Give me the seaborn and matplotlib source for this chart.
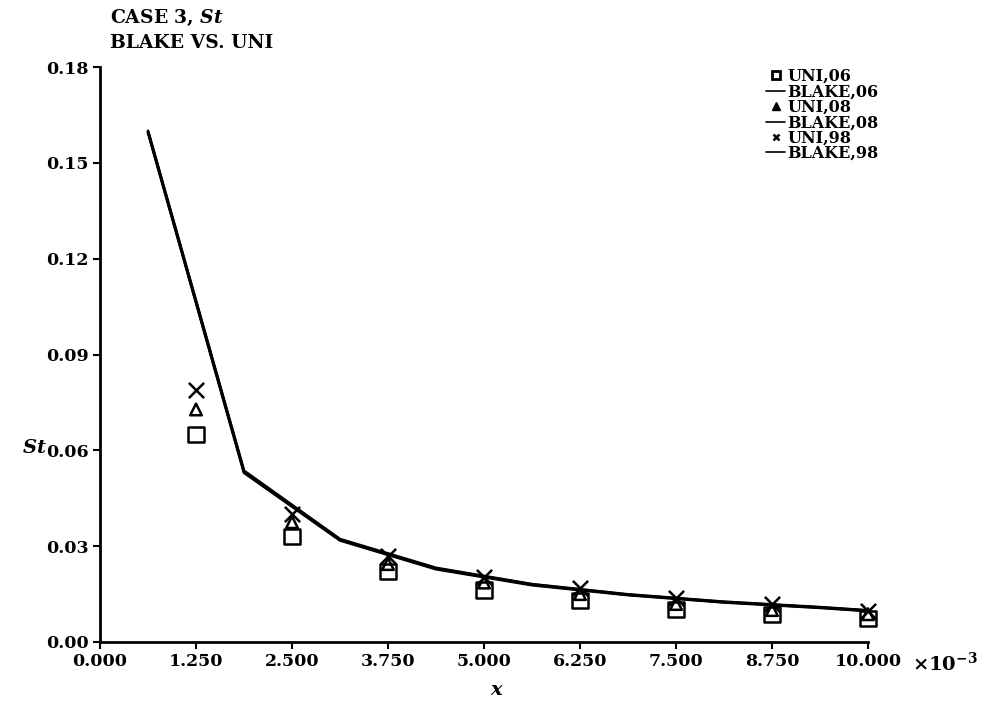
import matplotlib
matplotlib.use("Agg")
import matplotlib.pyplot as plt
import seaborn as sns
import pandas as pd
import numpy as np

# ---- data (x in units of 1e-3) ----
uni_x = [1.25, 2.5, 3.75, 5.0, 6.25, 7.5, 8.75, 10.0]
uni_06 = [0.0650, 0.0330, 0.0220, 0.0163, 0.0131, 0.0102, 0.0085, 0.0073]
uni_08 = [0.0728, 0.0375, 0.0244, 0.0186, 0.0150, 0.0119, 0.0100, 0.0087]
uni_98 = [0.0790, 0.0400, 0.0268, 0.0205, 0.0170, 0.0138, 0.0118, 0.0097]

blake_x = [0.625, 1.875, 3.125, 4.375, 5.625, 6.875, 8.125, 9.375, 10.0]
blake_06 = [0.1595, 0.0530, 0.0318, 0.0228, 0.0178, 0.0147, 0.0124, 0.0107, 0.0097]
blake_08 = [0.1598, 0.0533, 0.0320, 0.0230, 0.0180, 0.0148, 0.0125, 0.0108, 0.0098]
blake_98 = [0.1600, 0.0536, 0.0322, 0.0232, 0.0181, 0.0149, 0.0126, 0.0109, 0.0099]

x_ticks = [0.0, 1.25, 2.5, 3.75, 5.0, 6.25, 7.5, 8.75, 10.0]
y_ticks = [0.00, 0.03, 0.06, 0.09, 0.12, 0.15, 0.18]

sns.set_theme(style="ticks")
plt.rcParams['font.family'] = ['DejaVu Serif']
plt.rcParams['font.weight'] = 'bold'
plt.rcParams['mathtext.fontset'] = 'dejavuserif'
plt.rcParams['text.color'] = 'black'
plt.rcParams['axes.labelcolor'] = 'black'
plt.rcParams['xtick.color'] = 'black'
plt.rcParams['ytick.color'] = 'black'

fig = plt.figure(figsize=(9.85, 7.15), dpi=100)
ax = fig.add_axes([100/985, 1-642/715, 768/985, (642-67)/715])

k = dict(color='black', linewidth=2.0, ax=ax, legend=False)
sns.lineplot(x=blake_x, y=blake_06, **k)
sns.lineplot(x=blake_x, y=blake_08, **k)
sns.lineplot(x=blake_x, y=blake_98, **k)

sns.scatterplot(x=uni_x, y=uni_06, marker='s', s=120, facecolors='none',
                edgecolor='black', linewidth=1.8, ax=ax, legend=False, zorder=3, clip_on=False)
sns.scatterplot(x=uni_x, y=uni_08, marker='^', s=70, facecolors='none',
                edgecolor='black', linewidth=1.8, ax=ax, legend=False, zorder=3, clip_on=False)
sns.scatterplot(x=uni_x, y=uni_98, marker='x', s=120, color='black',
                linewidth=1.8, ax=ax, legend=False, zorder=3, clip_on=False)

ax.set_xlim(0, 10)
ax.set_ylim(0, 0.18)
ax.set_xticks(x_ticks)
ax.set_xticklabels([f"{v:.3f}" for v in x_ticks])
ax.set_yticks(y_ticks)
ax.set_yticklabels([f"{v:.2f}" for v in y_ticks])
ax.tick_params(axis='both', labelsize=12.5, length=5, width=1.5, colors='black',
               direction='out', pad=3)
for lab in ax.get_xticklabels() + ax.get_yticklabels():
    lab.set_fontweight('bold')
sns.despine(ax=ax)
for sp in ['left', 'bottom']:
    ax.spines[sp].set_linewidth(2.0)
    ax.spines[sp].set_color('black')
ax.set_facecolor('white')

ax.set_xlabel('')
ax.set_ylabel('')
fig.text(497/985, 1-690/715, r'$x$', ha='center', va='center', fontsize=14)
fig.text(22/985, 1-448/715, r'$St$', ha='left', va='center', fontsize=14)
fig.text(912/985, 1-663/715, r'$\times10^{-3}$', ha='left', va='center', fontsize=14)
fig.text(110/985, 1-18/715, r'CASE 3, $St$', ha='left', va='center', fontsize=13.5, weight='bold')
fig.text(110/985, 1-43/715, 'BLAKE VS. UNI', ha='left', va='center', fontsize=13.5, weight='bold')

from matplotlib.lines import Line2D
handles = [
    Line2D([], [], marker='s', linestyle='none', markersize=6, markerfacecolor='white',
           markeredgecolor='black', markeredgewidth=2),
    Line2D([], [], color='black', linewidth=1.2),
    Line2D([], [], marker='^', linestyle='none', markersize=6, color='black'),
    Line2D([], [], color='black', linewidth=1.2),
    Line2D([], [], marker='x', linestyle='none', markersize=5, color='black', markeredgewidth=1.8),
    Line2D([], [], color='black', linewidth=1.2),
]
labels = ['UNI,06', 'BLAKE,06', 'UNI,08', 'BLAKE,08', 'UNI,98', 'BLAKE,98']
leg = fig.legend(handles, labels, loc='upper left', bbox_to_anchor=(766/985, 1-68/715),
                 frameon=False, fontsize=11.5, handlelength=1.2, handletextpad=0.15,
                 labelspacing=-0.1, borderpad=0, borderaxespad=0)
for t in leg.get_texts():
    t.set_fontweight('bold')
    t.set_color('black')

fig.savefig('out.png', dpi=100, facecolor='white')
